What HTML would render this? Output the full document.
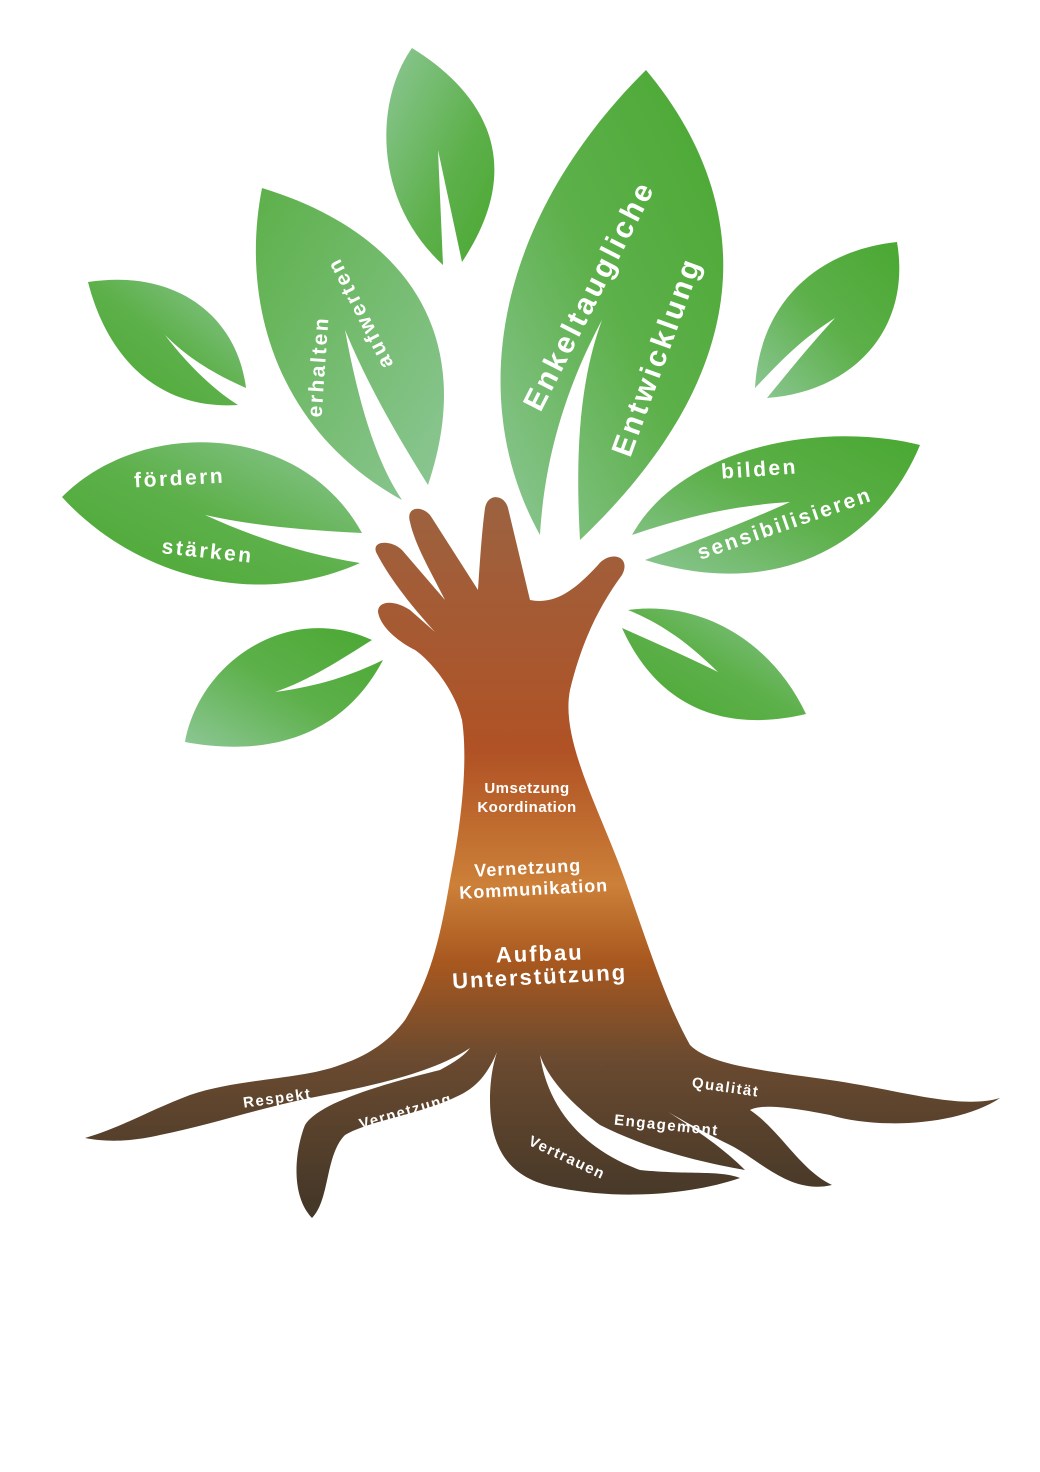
<!DOCTYPE html>
<html><head><meta charset="utf-8"><style>
html,body{margin:0;padding:0;background:#fff;}
svg{display:block;}
text{font-family:"Liberation Sans",sans-serif;fill:#fff;font-weight:bold;}
</style></head><body>
<svg width="1040" height="1472" viewBox="0 0 1040 1472" xmlns="http://www.w3.org/2000/svg">
<defs>
<linearGradient id="g1" x1="0" y1="0" x2="1" y2="1"><stop offset="0" stop-color="#8cc795"/><stop offset="0.6" stop-color="#5db04a"/><stop offset="1" stop-color="#4aa832"/></linearGradient>
<linearGradient id="g2" x1="1" y1="0" x2="0" y2="1"><stop offset="0" stop-color="#4aa832"/><stop offset="0.5" stop-color="#5db04a"/><stop offset="1" stop-color="#8cc795"/></linearGradient>
<linearGradient id="g3" x1="0" y1="0" x2="1" y2="1"><stop offset="0" stop-color="#5db04a"/><stop offset="1" stop-color="#8cc795"/></linearGradient>
<linearGradient id="g4" x1="1" y1="0" x2="0" y2="1"><stop offset="0" stop-color="#8cc795"/><stop offset="0.5" stop-color="#5db04a"/><stop offset="1" stop-color="#4aa832"/></linearGradient>
<linearGradient id="tr" gradientUnits="userSpaceOnUse" x1="0" y1="500" x2="0" y2="1200">
<stop offset="0" stop-color="#9c6240"/><stop offset="0.36" stop-color="#b05225"/><stop offset="0.55" stop-color="#cc8038"/><stop offset="0.66" stop-color="#a8581f"/><stop offset="0.8" stop-color="#6a4a30"/><stop offset="1" stop-color="#463828"/></linearGradient>
</defs>
<path d="M412,48 C480,90 530,160 462,262 L438,150 L443,265 C372,200 375,100 412,48 Z" fill="url(#g1)"/>
<path d="M646,70 C730,170 790,340 580,540 C575,450 580,380 602,320 C570,380 545,450 540,535 C465,400 495,220 646,70 Z" fill="url(#g2)"/>
<path d="M262,188 C400,230 480,330 428,485 C400,440 370,390 345,330 C358,400 375,460 402,500 C275,430 240,300 262,188 Z" fill="url(#g3)"/>
<path d="M88,282 C180,268 238,320 246,388 C210,372 186,356 165,335 C188,365 214,390 238,405 C160,410 108,360 88,282 Z" fill="url(#g4)"/>
<path d="M62,497 C140,418 300,420 362,533 C300,530 250,525 205,515 C260,540 310,555 360,563 C250,612 130,572 62,497 Z" fill="url(#g4)"/>
<path d="M185,742 C200,660 290,602 372,640 C340,660 310,680 275,692 C320,686 352,675 383,660 C340,742 260,756 185,742 Z" fill="url(#g2)"/>
<path d="M897,242 C912,330 852,392 767,398 C790,370 810,345 835,318 C800,340 780,362 755,388 C760,300 820,250 897,242 Z" fill="url(#g2)"/>
<path d="M632,535 C680,448 820,420 920,445 C880,542 780,602 645,560 C700,540 750,520 790,502 C740,505 690,515 632,535 Z" fill="url(#g2)"/>
<path d="M628,610 C702,600 772,642 806,714 C730,732 660,712 622,628 C660,645 690,658 718,672 C690,645 665,625 628,610 Z" fill="url(#g4)"/>
<path fill="url(#tr)" d="M376,552 C372,540 392,540 402,550 L445,600 C430,570 415,545 410,522 C405,505 425,505 432,518 L478,590 C480,560 482,530 485,508 C488,492 505,495 508,508 L530,600 C555,605 575,590 598,565 C610,550 632,556 622,575 C600,605 582,640 570,690 C560,740 600,810 625,880 C650,950 665,1000 690,1045 C710,1065 760,1070 830,1080 C900,1090 960,1110 1000,1098 C960,1125 880,1130 830,1115 C780,1105 760,1105 750,1110 C780,1130 800,1170 832,1185 C790,1195 760,1160 730,1145 C700,1130 640,1100 598,1062 C640,1100 700,1125 745,1170 C700,1162 650,1150 600,1125 C560,1095 545,1070 540,1055 C548,1110 585,1150 640,1170 C690,1175 720,1170 740,1178 C690,1195 620,1200 560,1188 C510,1180 490,1150 490,1100 C490,1075 495,1055 500,1045 C490,1070 480,1085 460,1095 C420,1115 370,1120 345,1135 C325,1155 330,1200 312,1218 C290,1195 295,1150 305,1125 C320,1100 400,1080 440,1070 C455,1062 465,1055 470,1048 C430,1075 360,1088 310,1098 C260,1108 210,1125 160,1135 C130,1142 105,1142 85,1138 C120,1128 150,1110 190,1095 C240,1078 300,1080 340,1065 C370,1055 390,1040 405,1020 C430,980 440,940 450,880 C462,820 468,760 462,720 C455,690 430,660 415,650 C395,640 380,625 378,612 C378,600 395,600 410,610 L435,632 C415,610 390,580 376,552 Z"/>
<g font-size="30" letter-spacing="3">
<text transform="translate(598,300) rotate(-63)" text-anchor="middle">Enkeltaugliche</text>
<text transform="translate(666,360) rotate(-70)" text-anchor="middle">Entwicklung</text>
</g>
<g font-size="21" letter-spacing="2.5">
<text transform="translate(325,367) rotate(-86)" text-anchor="middle">erhalten</text>
<text transform="translate(366,310) rotate(-117)" text-anchor="middle">aufwerten</text>
<text transform="translate(180,485) rotate(-3)" text-anchor="middle">fördern</text>
<text transform="translate(207,558) rotate(6)" text-anchor="middle">stärken</text>
<text transform="translate(760,476) rotate(-4)" text-anchor="middle">bilden</text>
<text transform="translate(787,530) rotate(-19)" text-anchor="middle">sensibilisieren</text>
</g>
<g font-size="15" letter-spacing="0.5">
<text x="527" y="793" text-anchor="middle">Umsetzung</text>
<text x="527" y="812" text-anchor="middle">Koordination</text>
</g>
<g font-size="18" letter-spacing="1">
<text transform="translate(528,874) rotate(-3)" text-anchor="middle">Vernetzung</text>
<text transform="translate(534,895) rotate(-3)" text-anchor="middle">Kommunikation</text>
</g>
<g font-size="22" letter-spacing="2">
<text transform="translate(540,961) rotate(-2)" text-anchor="middle">Aufbau</text>
<text transform="translate(540,984) rotate(-3)" text-anchor="middle">Unterstützung</text>
</g>
<g font-size="15" letter-spacing="1.5">
<text transform="translate(278,1103) rotate(-8)" text-anchor="middle">Respekt</text>
<text transform="translate(407,1116) rotate(-16)" text-anchor="middle">Vernetzung</text>
<text transform="translate(565,1162) rotate(25)" text-anchor="middle">Vertrauen</text>
<text transform="translate(666,1130) rotate(6)" text-anchor="middle">Engagement</text>
<text transform="translate(725,1092) rotate(8)" text-anchor="middle">Qualität</text>
</g>
</svg>
</body></html>
